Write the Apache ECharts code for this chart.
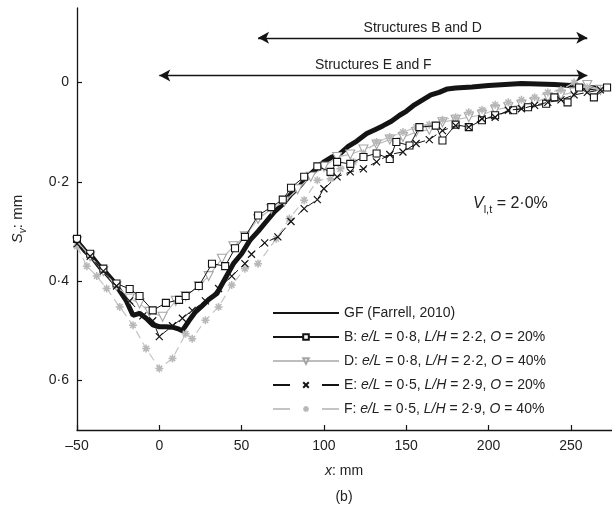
<!DOCTYPE html>
<html>
<head>
<meta charset="utf-8">
<script src="https://cdn.jsdelivr.net/npm/echarts@6/dist/echarts.min.js"></script>
<style>
html,body{margin:0;padding:0;background:#fff;}
#c{width:612px;height:509px;}
</style>
</head>
<body>
<div id="c"></div>
<script>
// ---- data (x: mm, Sv: mm) ----
const xTicks = [-50, 0, 50, 100, 150, 200, 250];
const yTicks = [0, 0.2, 0.4, 0.6];

const gfX = [-50,-45,-40,-36,-32,-28,-24,-20,-16,-12,-8,-4,0,4,8,12,14,18,22,26,30,35,40,45,50,55,60,65,70,75,80,85,90,95,100,105,110,115,120,126,131,136,141,146,150,155,160,165,170,175,180,185,190,200,210,220,230,240,250,260,272];
const gfY = [0.32,0.34,0.355,0.372,0.385,0.40,0.42,0.44,0.469,0.465,0.475,0.488,0.492,0.492,0.493,0.497,0.50,0.48,0.462,0.45,0.437,0.425,0.395,0.365,0.345,0.318,0.30,0.28,0.26,0.245,0.225,0.21,0.19,0.175,0.16,0.15,0.143,0.128,0.118,0.103,0.095,0.087,0.078,0.066,0.058,0.045,0.035,0.025,0.02,0.013,0.011,0.01,0.009,0.006,0.004,0.002,0.003,0.004,0.006,0.01,0.012];

const bX = [-50,-42,-34,-26,-18,-12,-4,4,12,16,24,32,40,46,52,60,68,75,80,88,96,104,108,116,124,132,140,144,152,158,168,172,180,188,196,204,215,224,235,240,248,255,264,272];
const bY = [0.315,0.345,0.375,0.405,0.416,0.43,0.459,0.444,0.438,0.43,0.41,0.365,0.37,0.334,0.311,0.268,0.251,0.236,0.212,0.19,0.169,0.18,0.16,0.164,0.15,0.143,0.154,0.12,0.127,0.09,0.087,0.117,0.085,0.09,0.076,0.066,0.056,0.05,0.043,0.03,0.04,0.01,0.03,0.01];

const dX = [-50,-42,-34,-26,-18,-12,-6,2,10,16,24,30,38,45,52,60,68,76,84,92,100,108,116,124,132,140,148,156,164,172,180,188,196,204,212,220,228,236,244,252,260,268];
const dY = [0.32,0.35,0.38,0.41,0.435,0.445,0.462,0.472,0.44,0.43,0.41,0.39,0.355,0.33,0.31,0.275,0.255,0.24,0.215,0.19,0.17,0.15,0.145,0.135,0.125,0.115,0.11,0.10,0.095,0.08,0.075,0.07,0.065,0.055,0.05,0.045,0.04,0.03,0.025,0.02,0.005,0.015];

const eX = [-50,-42,-34,-26,-18,-10,-4,0,8,14,20,28,36,44,52,56,64,72,80,88,96,100,108,116,124,132,140,148,156,164,172,180,188,196,204,212,220,228,236,244,252,260,268];
const eY = [0.325,0.35,0.38,0.41,0.44,0.47,0.48,0.512,0.49,0.475,0.459,0.44,0.415,0.39,0.365,0.346,0.323,0.311,0.28,0.254,0.236,0.214,0.19,0.18,0.174,0.16,0.145,0.14,0.123,0.115,0.097,0.087,0.09,0.073,0.07,0.056,0.053,0.046,0.04,0.035,0.025,0.02,0.015];

const fX = [-50,-44,-38,-32,-24,-16,-8,0,8,16,20,28,36,44,52,60,71,79,88,96,104,110,118,124,132,140,148,156,164,172,180,188,196,204,212,220,228,236,244,252,260,268];
const fY = [0.33,0.37,0.39,0.415,0.452,0.489,0.536,0.576,0.556,0.506,0.516,0.479,0.452,0.408,0.375,0.365,0.315,0.274,0.237,0.197,0.194,0.174,0.16,0.143,0.12,0.11,0.10,0.09,0.085,0.075,0.07,0.06,0.055,0.045,0.04,0.035,0.03,0.02,0.015,0.0,0.01,0.015];

// annotation arrows
const arrowStart = [60, 0];
const arrowEnd = [260, 260];
const arrowLevel = [-0.09, -0.014];
const arrowText = ['Structures B and D', 'Structures E and F'];

const legendText = {
  GF: 'GF (Farrell, 2010)',
  B: 'B: {i|e/L} = 0·8, {i|L/H} = 2·2, {i|O} = 20%',
  D: 'D: {i|e/L} = 0·8, {i|L/H} = 2·2, {i|O} = 40%',
  E: 'E: {i|e/L} = 0·5, {i|L/H} = 2·9, {i|O} = 20%',
  F: 'F: {i|e/L} = 0·5, {i|L/H} = 2·9, {i|O} = 40%'
};

const zip = (xs, ys) => xs.map((x, i) => [x, ys[i]]);
const FONT = 'Liberation Sans';
const BLACK = '#141414';

const chart = echarts.init(document.getElementById('c'), null, {renderer: 'canvas'});

const markData = arrowText.map((t, i) => [
  {coord: [arrowStart[i], arrowLevel[i]], name: t},
  {coord: [arrowEnd[i], arrowLevel[i]]}
]);

chart.setOption({
  animation: false,
  backgroundColor: '#fff',
  grid: {left: 77, right: 0, top: 8, bottom: 79, containLabel: false},
  xAxis: {
    type: 'value', min: -50, max: 275,
    axisLine: {show: true, onZero: false, lineStyle: {color: BLACK, width: 1.3}},
    axisTick: {show: true, inside: true, length: 5, lineStyle: {color: BLACK, width: 1.2}, customValues: xTicks},
    axisLabel: {color: '#222', fontSize: 14, fontFamily: FONT, margin: 9, customValues: xTicks,
      formatter: v => v < 0 ? '\u2013' + Math.abs(v) : String(v)},
    splitLine: {show: false}
  },
  yAxis: {
    type: 'value', min: -0.15, max: 0.7, inverse: true,
    axisLine: {show: true, onZero: false, lineStyle: {color: BLACK, width: 1.3}},
    axisTick: {show: true, inside: true, length: 5, lineStyle: {color: BLACK, width: 1.2}, customValues: yTicks},
    axisLabel: {color: '#222', fontSize: 14, fontFamily: FONT, margin: 8, customValues: yTicks,
      formatter: v => v === 0 ? '0' : v.toFixed(1).replace('.', '\u00b7')},
    splitLine: {show: false}
  },
  legend: {
    orient: 'vertical', left: 267, top: 300,
    itemWidth: 66, itemHeight: 7, itemGap: 8,
    data: [
      {name: 'GF'},
      {name: 'B'},
      {name: 'D'},
      {name: 'E', lineStyle: {type: [17, 32]}},
      {name: 'F', lineStyle: {type: [17, 32]}}
    ],
    formatter: n => legendText[n],
    textStyle: {fontSize: 14, fontFamily: FONT, color: '#222', lineHeight: 16,
      rich: {i: {fontStyle: 'italic', fontSize: 14, fontFamily: FONT, color: '#222'}}},
    selectedMode: false
  },
  series: [
    {
      name: 'GF', type: 'line', data: zip(gfX, gfY), showSymbol: false, symbol: 'none',
      lineStyle: {color: BLACK, width: 5}, itemStyle: {color: BLACK, opacity: 0}, z: 2,
      markLine: {
        silent: true, symbol: ['arrow', 'arrow'], symbolSize: [9, 11],
        lineStyle: {color: BLACK, width: 1.3, type: 'solid', opacity: 1},
        itemStyle: {opacity: 1},
        label: {show: true, position: 'insideMiddleTop', distance: 3, formatter: p => p.name,
          color: '#222', fontSize: 14, fontFamily: FONT},
        data: markData
      }
    },
    {
      name: 'B', type: 'line', data: zip(bX, bY), symbol: 'rect', symbolSize: 7,
      lineStyle: {color: BLACK, width: 1},
      itemStyle: {color: '#fff', borderColor: BLACK, borderWidth: 1.1}, z: 4
    },
    {
      name: 'D', type: 'line', data: zip(dX, dY), symbol: 'triangle', symbolRotate: 180, symbolSize: 9,
      lineStyle: {color: '#bdbdbd', width: 1.2},
      itemStyle: {color: '#fff', borderColor: '#a5a5a5', borderWidth: 1.1}, z: 3
    },
    {
      name: 'E', type: 'line', data: zip(eX, eY),
      symbol: 'path://M0,0L10,10M10,0L0,10', symbolSize: 7, symbolKeepAspect: true,
      lineStyle: {color: BLACK, width: 1, type: [8, 5]},
      itemStyle: {color: 'none', borderColor: BLACK, borderWidth: 1.2}, z: 5
    },
    {
      name: 'F', type: 'line', data: zip(fX, fY),
      symbol: 'path://M5,0L5,10M0,5L10,5M1.5,1.5L8.5,8.5M8.5,1.5L1.5,8.5', symbolSize: 8, symbolKeepAspect: true,
      lineStyle: {color: '#c4c4c4', width: 1.2, type: [8, 5]},
      itemStyle: {color: 'none', borderColor: '#b8b8b8', borderWidth: 1.5}, z: 3
    }
  ],
  graphic: [
    {type: 'text', x: 18, y: 219, rotation: Math.PI / 2,
      style: {text: '{i|S}{s|v}{n|: mm}', align: 'center', verticalAlign: 'middle',
        rich: {
          i: {fontStyle: 'italic', fontSize: 15, fontFamily: FONT, fill: '#222', lineHeight: 20},
          s: {fontStyle: 'italic', fontSize: 10, fontFamily: FONT, fill: '#222', lineHeight: 10, verticalAlign: 'bottom'},
          n: {fontSize: 15, fontFamily: FONT, fill: '#222', lineHeight: 20}
        }}},
    {type: 'text', x: 344, y: 471,
      style: {text: '{i|x}{n|: mm}', align: 'center', verticalAlign: 'middle',
        rich: {
          i: {fontStyle: 'italic', fontSize: 14, fontFamily: FONT, fill: '#222'},
          n: {fontSize: 14, fontFamily: FONT, fill: '#222'}
        }}},
    {type: 'text', x: 344, y: 497,
      style: {text: '(b)', align: 'center', verticalAlign: 'middle', fontSize: 14, fontFamily: FONT, fill: '#222'}},
    {type: 'text', x: 473, y: 204,
      style: {text: '{i|V}{s|l,t}{n| = 2\u00b70%}', align: 'left', verticalAlign: 'middle',
        rich: {
          i: {fontStyle: 'italic', fontSize: 16, fontFamily: FONT, fill: '#222', lineHeight: 22},
          s: {fontSize: 11, fontFamily: FONT, fill: '#222', lineHeight: 11, verticalAlign: 'bottom'},
          n: {fontSize: 16, fontFamily: FONT, fill: '#222', lineHeight: 22}
        }}}
  ]
});
</script>
</body>
</html>
